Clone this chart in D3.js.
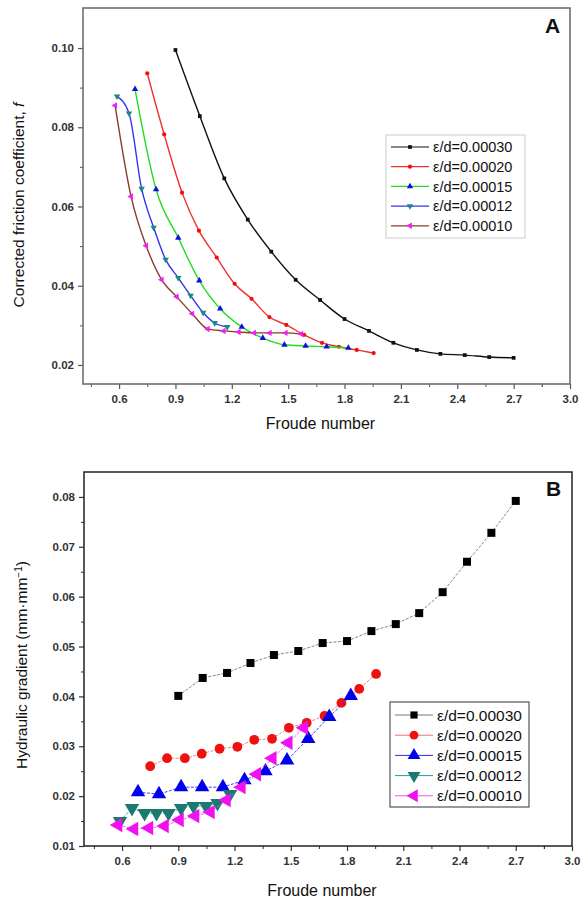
<!DOCTYPE html>
<html>
<head>
<meta charset="utf-8">
<script src="https://cdn.jsdelivr.net/npm/d3@7/dist/d3.min.js"></script>
<style>
  body { margin: 0; background: #fff; }
  svg { display: block; font-family: Arial, "Liberation Sans", sans-serif; }
</style>
</head>
<body>
<svg id="chart" width="581" height="901"></svg>
<script>
// Froude numbers per roughness series (same in both panels)
const fr30 = [0.90, 1.03, 1.16, 1.285, 1.41, 1.54, 1.67, 1.80, 1.93, 2.06, 2.185, 2.31, 2.44, 2.57, 2.70];
const fr20 = [0.75, 0.84, 0.935, 1.025, 1.12, 1.215, 1.305, 1.40, 1.49, 1.585, 1.68, 1.77, 1.865, 1.955];
const fr15 = [0.685, 0.797, 0.915, 1.027, 1.138, 1.253, 1.365, 1.48, 1.593, 1.705, 1.82];
const fr12 = [0.589, 0.653, 0.72, 0.784, 0.848, 0.915, 0.981, 1.048, 1.109, 1.176];
const fr10 = [0.579, 0.664, 0.744, 0.827, 0.907, 0.99, 1.072, 1.157, 1.237, 1.319, 1.402, 1.487, 1.57];

// panel A: corrected friction coefficient f
const f30 = [0.0995, 0.0828, 0.0671, 0.0567, 0.0486, 0.0415, 0.0364, 0.0316, 0.0286, 0.0256, 0.0238, 0.0228, 0.0225, 0.0220, 0.0218];
const f20 = [0.0936, 0.0782, 0.0635, 0.0539, 0.0471, 0.0405, 0.0367, 0.0321, 0.0301, 0.0276, 0.0256, 0.0246, 0.0238, 0.0230];
const f15 = [0.0896, 0.0643, 0.0521, 0.0413, 0.0342, 0.0296, 0.0268, 0.0251, 0.0248, 0.0246, 0.0243];
const f12 = [0.0878, 0.0835, 0.0645, 0.0547, 0.0466, 0.0420, 0.0375, 0.0332, 0.0306, 0.0296];
const f10 = [0.0855, 0.0625, 0.0501, 0.0415, 0.0372, 0.0329, 0.0291, 0.0286, 0.0283, 0.0281, 0.0281, 0.0281, 0.0278];

// panel B: hydraulic gradient J
const j30 = [0.0401, 0.0437, 0.0447, 0.0467, 0.0483, 0.0491, 0.0507, 0.0511, 0.0531, 0.0545, 0.0567, 0.0609, 0.0670, 0.0728, 0.0792];
const j20 = [0.0260, 0.0276, 0.0276, 0.0285, 0.0295, 0.0299, 0.0313, 0.0315, 0.0337, 0.0347, 0.0361, 0.0387, 0.0415, 0.0445];
const j15 = [0.0208, 0.0204, 0.0218, 0.0218, 0.0218, 0.0232, 0.0250, 0.0272, 0.0315, 0.0359, 0.0401];
const j12 = [0.0150, 0.0176, 0.0166, 0.0166, 0.0166, 0.0176, 0.0180, 0.0180, 0.0186, 0.0204];
const j10 = [0.0142, 0.0134, 0.0136, 0.0140, 0.0152, 0.0160, 0.0168, 0.0192, 0.0218, 0.0244, 0.0276, 0.0307, 0.0337];

const labels = ["ε/d=0.00030", "ε/d=0.00020", "ε/d=0.00015", "ε/d=0.00012", "ε/d=0.00010"];
const xTicks = [0.6, 0.9, 1.2, 1.5, 1.8, 2.1, 2.4, 2.7, 3.0];
const yTicksA = [0.02, 0.04, 0.06, 0.08, 0.10];
const yTicksB = [0.01, 0.02, 0.03, 0.04, 0.05, 0.06, 0.07, 0.08];

const froude = [fr30, fr20, fr15, fr12, fr10];

const svg = d3.select("#chart");

// marker shapes: square, circle, up, down, left
const shapes = [
  { type: d3.symbolSquare, rot: 0 },
  { type: d3.symbolCircle, rot: 0 },
  { type: d3.symbolTriangle, rot: 0 },
  { type: d3.symbolTriangle, rot: 180 },
  { type: d3.symbolTriangle, rot: -90 }
];

function drawPanel(opt) {
  const x = d3.scaleLinear().domain(opt.xDomain).range([opt.left, opt.right]);
  const y = d3.scaleLinear().domain(opt.yDomain).range([opt.bottom, opt.top]);
  const g = svg.append("g");

  // minor ticks
  const xMinor = xTicks.map((v) => v - 0.15).concat([2.85]);
  g.append("g")
    .attr("transform", `translate(0,${opt.bottom})`)
    .call(d3.axisBottom(x).tickValues(xMinor).tickSize(3).tickFormat(""))
    .call((a) => a.select(".domain").remove())
    .selectAll("line").attr("stroke", opt.axisColor);
  g.append("g")
    .attr("transform", `translate(${opt.left},0)`)
    .call(d3.axisLeft(y).tickValues(opt.yMinor).tickSize(3).tickFormat(""))
    .call((a) => a.select(".domain").remove())
    .selectAll("line").attr("stroke", opt.axisColor);

  // major ticks
  const xa = g.append("g")
    .attr("transform", `translate(0,${opt.bottom})`)
    .call(d3.axisBottom(x).tickValues(xTicks).tickSize(5).tickPadding(6).tickFormat(d3.format(".1f")));
  xa.select(".domain").remove();
  xa.selectAll("line").attr("stroke", opt.axisColor).attr("stroke-width", 1.2);
  xa.selectAll("text").attr("font-size", 11.5).attr("font-weight", "bold").attr("fill", "#333")
    .attr("font-family", "Arial, 'Liberation Sans', sans-serif");

  const ya = g.append("g")
    .attr("transform", `translate(${opt.left},0)`)
    .call(d3.axisLeft(y).tickValues(opt.yTicks).tickSize(5).tickPadding(4).tickFormat(d3.format(".2f")));
  ya.select(".domain").remove();
  ya.selectAll("line").attr("stroke", opt.axisColor).attr("stroke-width", 1.2);
  ya.selectAll("text").attr("font-size", 11.5).attr("font-weight", "bold").attr("fill", "#333")
    .attr("font-family", "Arial, 'Liberation Sans', sans-serif");

  // frame
  g.append("rect")
    .attr("x", opt.left).attr("y", opt.top)
    .attr("width", opt.right - opt.left).attr("height", opt.bottom - opt.top)
    .attr("fill", "none").attr("stroke", opt.frameColor).attr("stroke-width", 1.5);

  // series
  opt.series.forEach((s, i) => {
    const pts = froude[i].map((fr, k) => ({ fr, v: s.values[k] }));
    const line = d3.line().x((d) => x(d.fr)).y((d) => y(d.v)).curve(opt.curve);
    g.append("path")
      .datum(pts)
      .attr("fill", "none")
      .attr("stroke", s.line)
      .attr("stroke-width", opt.lineWidth)
      .attr("stroke-dasharray", opt.dash)
      .attr("d", line);
    const sym = d3.symbol().type(shapes[i].type).size(opt.markerSize[i]);
    g.selectAll(null)
      .data(pts)
      .join("path")
      .attr("d", sym)
      .attr("transform", (d) => `translate(${x(d.fr)},${y(d.v)}) rotate(${shapes[i].rot})`)
      .attr("fill", s.marker);
  });

  // legend
  const lg = opt.legend;
  g.append("rect")
    .attr("x", lg.x).attr("y", lg.y).attr("width", lg.w).attr("height", lg.h)
    .attr("fill", "#fff").attr("stroke", lg.stroke).attr("stroke-width", lg.strokeWidth);
  opt.series.forEach((s, i) => {
    const ly = lg.y + lg.first + i * lg.step;
    g.append("line")
      .attr("x1", lg.x + 5).attr("x2", lg.x + lg.lineLen)
      .attr("y1", ly).attr("y2", ly)
      .attr("stroke", s.line).attr("stroke-width", lg.lineWidth);
    g.append("path")
      .attr("d", d3.symbol().type(shapes[i].type).size(opt.markerSize[i] * lg.markerScale))
      .attr("transform", `translate(${lg.x + 5 + (lg.lineLen - 5) / 2},${ly}) rotate(${shapes[i].rot})`)
      .attr("fill", s.marker);
    g.append("text")
      .attr("x", lg.x + lg.lineLen + 4).attr("y", ly)
      .attr("dy", "0.36em")
      .attr("font-size", lg.fontSize)
      .attr("fill", "#111")
      .text(labels[i]);
  });

  // panel letter
  g.append("text")
    .attr("x", opt.letter.x).attr("y", opt.letter.y)
    .attr("font-size", 21).attr("font-weight", "bold").attr("fill", "#111")
    .text(opt.letter.text);

  // x title
  g.append("text")
    .attr("x", (opt.left + opt.right) / 2 - 6).attr("y", opt.xTitleY)
    .attr("text-anchor", "middle").attr("font-size", 16).attr("fill", "#111")
    .text("Froude number");

  return g;
}

const gA = drawPanel({
  left: 83, right: 570, top: 8, bottom: 384,
  xDomain: [0.408, 3.0], yDomain: [0.0152, 0.1101],
  yTicks: yTicksA, yMinor: [0.03, 0.05, 0.07, 0.09],
  axisColor: "#555", frameColor: "#666",
  curve: d3.curveMonotoneX, lineWidth: 1.4, dash: null,
  markerSize: [14, 14, 18, 18, 18],
  series: [
    { values: f30, line: "#111", marker: "#111" },
    { values: f20, line: "#f03030", marker: "#f01010" },
    { values: f15, line: "#22dd22", marker: "#1010e0" },
    { values: f12, line: "#3333ee", marker: "#1a8a80" },
    { values: f10, line: "#8b3c2c", marker: "#f020f0" }
  ],
  legend: { x: 386, y: 135, w: 139, h: 103, first: 12, step: 19.7, lineLen: 43,
    lineWidth: 1.2, markerScale: 1, fontSize: 14.5, stroke: "#ccc", strokeWidth: 1 },
  letter: { x: 545, y: 33, text: "A" },
  xTitleY: 429
});

gA.append("text")
  .attr("transform", "translate(24,205) rotate(-90)")
  .attr("text-anchor", "middle").attr("font-size", 15.5).attr("fill", "#111")
  .call((t) => {
    t.append("tspan").text("Corrected friction coefficient, ");
    t.append("tspan").attr("font-style", "italic").text("f");
  });

const gB = drawPanel({
  left: 84, right: 572, top: 472, bottom: 846,
  xDomain: [0.397, 3.0], yDomain: [0.01, 0.085],
  yTicks: yTicksB, yMinor: [0.015, 0.025, 0.035, 0.045, 0.055, 0.065, 0.075],
  axisColor: "#333", frameColor: "#222",
  curve: d3.curveLinear, lineWidth: 0.9, dash: "3,1.5",
  markerSize: [64, 75, 90, 90, 90],
  series: [
    { values: j30, line: "#777", marker: "#000" },
    { values: j20, line: "#f07070", marker: "#f01010" },
    { values: j15, line: "#2a2af0", marker: "#0000ee" },
    { values: j12, line: "#2a9a8a", marker: "#1a7a70" },
    { values: j10, line: "#f050f0", marker: "#f010f0" }
  ],
  legend: { x: 390, y: 702, w: 139, h: 105, first: 13, step: 20.2, lineLen: 43,
    lineWidth: 1, markerScale: 0.8, fontSize: 15.5, stroke: "#555", strokeWidth: 1.2 },
  letter: { x: 546, y: 496, text: "B" },
  xTitleY: 896
});

gB.append("text")
  .attr("transform", "translate(27,665) rotate(-90)")
  .attr("text-anchor", "middle").attr("font-size", 15.5).attr("fill", "#111")
  .call((t) => {
    t.append("tspan").text("Hydraulic gradient (mm·mm");
    t.append("tspan").attr("baseline-shift", "super").attr("font-size", 10).text("−1");
    t.append("tspan").text(")");
  });
</script>
</body>
</html>
